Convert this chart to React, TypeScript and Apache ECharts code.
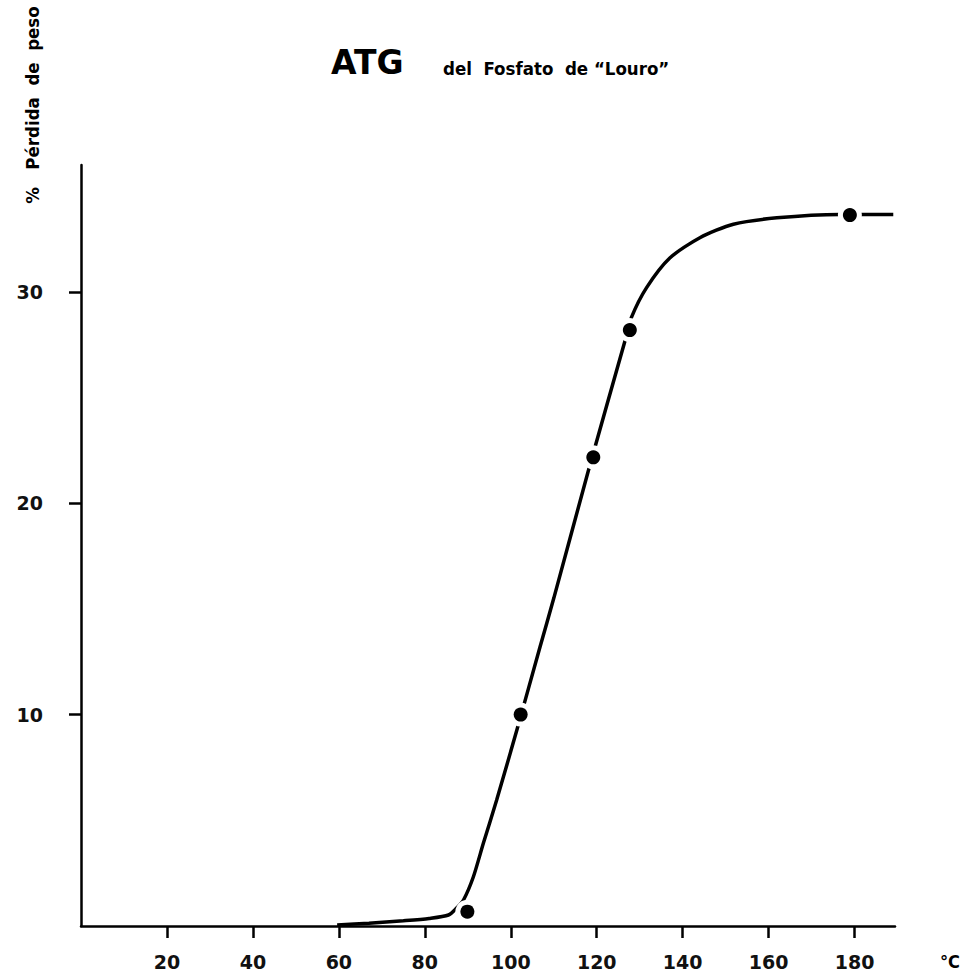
import React, { useEffect, useRef } from "react";
import * as echarts from "echarts";

// Measured points (temperature °C, % weight loss)
const pointTemps = [89.9, 102.3, 119.2, 127.7, 178.9];
const pointLoss = [0.68, 10.0, 22.17, 28.19, 33.63];

// Hand-drawn curve
const curveTemps = [59.6, 67, 75, 81, 85.5, 87.4, 89, 91.3, 93.6, 96.7, 101.4, 106.8, 110, 118, 126.6, 128.1, 131.6, 137, 144, 151.8, 161.9, 176.6, 189];
const curveLoss = [0.05, 0.13, 0.25, 0.36, 0.52, 0.85, 1.23, 2.33, 3.9, 5.95, 9.26, 13.2, 15.5, 21.5, 27.7, 28.8, 30.2, 31.6, 32.56, 33.2, 33.5, 33.66, 33.66];

const xTicks = [20, 40, 60, 80, 100, 120, 140, 160, 180];
const yTicks = [10, 20, 30];

const titleMain = "ATG";
const titleSub = "del  Fosfato  de \u201CLouro\u201D";
const yAxisTitle = "%   Pérdida  de  peso";
const xAxisUnit = "°C";

export default function App() {
  const ref = useRef<HTMLDivElement>(null);
  useEffect(() => {
    if (!ref.current) return;
    const chart = echarts.init(ref.current, null, { renderer: "svg" });
    const curve = curveTemps.map((t, i) => [t, curveLoss[i]]);
    const pts = pointTemps.map((t, i) => [t, pointLoss[i]]);
    const tickFont = {
      fontFamily: "DejaVu Sans",
      fontWeight: "bold" as const,
      fontSize: 19,
      color: "#111",
    };
    chart.setOption({
      animation: false,
      backgroundColor: "#fff",
      grid: { left: 81, right: 71, top: 165, bottom: 47 },
      xAxis: {
        type: "value",
        min: 0,
        max: 189.4,
        splitLine: { show: false },
        axisLine: { show: true, onZero: false, lineStyle: { color: "#000", width: 2.5 } },
        axisTick: { show: true, length: 12, customValues: xTicks, lineStyle: { color: "#000", width: 2.5 } },
        axisLabel: { ...tickFont, margin: 26, customValues: xTicks },
      },
      yAxis: {
        type: "value",
        min: 0,
        max: 36,
        splitLine: { show: false },
        axisLine: { show: true, onZero: false, lineStyle: { color: "#000", width: 2.5 } },
        axisTick: { show: true, length: 12, customValues: yTicks, lineStyle: { color: "#000", width: 2.5 } },
        axisLabel: { ...tickFont, margin: 38, customValues: yTicks },
      },
      graphic: [
        {
          type: "text",
          x: 331,
          y: 62,
          style: {
            text: titleMain,
            fontFamily: "DejaVu Sans",
            fontWeight: "bold",
            fontSize: 33,
            fill: "#000",
            verticalAlign: "middle",
            align: "left",
          },
        },
        {
          type: "text",
          x: 443,
          y: 68,
          style: {
            text: titleSub,
            fontFamily: "DejaVu Sans Condensed",
            fontWeight: "bold",
            fontSize: 18.5,
            fill: "#000",
            verticalAlign: "middle",
            align: "left",
          },
        },
        {
          type: "text",
          x: 32,
          y: 105,
          rotation: Math.PI / 2,
          style: {
            text: yAxisTitle,
            fontFamily: "DejaVu Sans Condensed",
            fontWeight: "bold",
            fontSize: 18.5,
            fill: "#000",
            verticalAlign: "middle",
            align: "center",
          },
        },
        {
          type: "text",
          x: 950,
          y: 961,
          style: {
            text: xAxisUnit,
            fontFamily: "DejaVu Sans Condensed",
            fontWeight: "bold",
            fontSize: 18,
            fill: "#000",
            verticalAlign: "middle",
            align: "center",
          },
        },
      ],
      series: [
        {
          type: "line",
          data: curve,
          smooth: 0.25,
          showSymbol: false,
          lineStyle: { color: "#000", width: 3.5 },
          z: 2,
        },
        {
          type: "scatter",
          data: pts,
          symbol: "circle",
          symbolSize: 24,
          itemStyle: { color: "#fff", opacity: 1 },
          z: 3,
        },
        {
          type: "scatter",
          data: pts,
          symbol: "circle",
          symbolSize: 14,
          itemStyle: { color: "#000", opacity: 1 },
          z: 4,
        },
      ],
    });
    return () => chart.dispose();
  }, []);
  return (
    <div
      ref={ref}
      style={{ position: "fixed", left: 0, top: 0, width: 966, height: 973, background: "#fff" }}
    />
  );
}
